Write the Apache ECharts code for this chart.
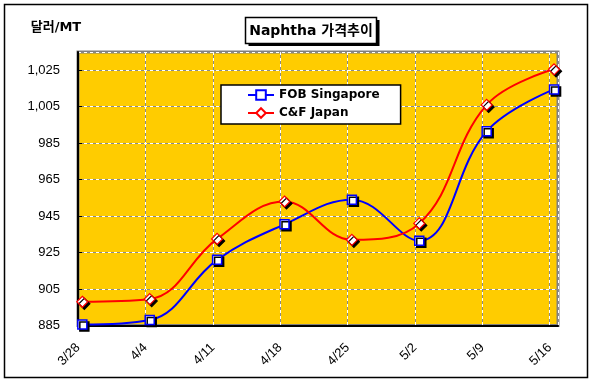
<!DOCTYPE html>
<html><head><meta charset="utf-8">
<script src="https://cdn.jsdelivr.net/npm/echarts@6/dist/echarts.min.js"></script>
<style>html,body{margin:0;padding:0;background:#fff}#c{width:592px;height:386px}</style>
</head><body><div id="c"></div>
<script>
const categories = ['3/28','4/4','4/11','4/18','4/25','5/2','5/9','5/16'];
const fobSingapore = [885.5, 888, 921, 940.5, 954, 931.5, 991.5, 1014.5];
const cfJapan = [898, 899.5, 932.5, 953, 932, 941, 1006, 1025.5];
const yTicks = [885, 905, 925, 945, 965, 985, 1005, 1025];
const titleText = 'Naphtha 가격추이';
const unitText = '달러/MT';

const DAYS = 7;          // weekly data on a day-based axis
const PLOT_OFFSET = 0.45; // points sit slightly right of the week ticks
const FONT = '"Liberation Sans", Arial, "Noto Sans CJK KR", sans-serif';
const WIDE = '"DejaVu Sans", "Noto Sans CJK KR", sans-serif';

function pts(arr){ return arr.map((v,i)=>[i*DAYS + PLOT_OFFSET, v]); }

const chart = echarts.init(document.getElementById('c'), null, {renderer:'canvas'});
const yMin = yTicks[0], yStep = yTicks[1]-yTicks[0];
const xMax = (categories.length-1)*DAYS + 0.86;
const yMax = 1035;

const baseX = {type:'value', min:0, max:xMax, interval:DAYS};
const baseY = {type:'value', min:yMin, max:yMax, interval:yStep};

chart.setOption({
  animation:false,
  textStyle:{fontFamily:FONT},
  grid:{left:78, right:34, top:52, bottom:60.5, show:true, backgroundColor:'#FFCC00', borderColor:'#808080', borderWidth:3},
  legend:{
    orient:'vertical', left:221, top:85,
    backgroundColor:'#fff', borderColor:'#000', borderWidth:1.5,
    padding:[4,21,5,26], itemWidth:26, itemHeight:12, itemGap:6,
    textStyle:{fontFamily:WIDE, fontSize:12, fontWeight:'bold', color:'#000'},
    data:['FOB Singapore','C&F Japan']
  },
  xAxis:[
    Object.assign({}, baseX, {
      axisLine:{show:true, onZero:false, lineStyle:{color:'#000', width:2}},
      axisTick:{show:false},
      splitLine:{show:true, lineStyle:{color:'#ffffff', type:[3,3], width:1}},
      axisLabel:{show:true, rotate:45, margin:20, fontSize:13, color:'#000', fontFamily:FONT,
        showMaxLabel:false,
        formatter:function(v){ const i = Math.round(v/DAYS); return (Math.abs(v - i*DAYS)<1e-6 && categories[i]) ? categories[i] : ''; }}
    }),
    Object.assign({}, baseX, {
      axisLine:{show:false}, axisTick:{show:false}, axisLabel:{show:false},
      splitLine:{show:true, lineStyle:{color:'#8a8a8a', type:[3,3], dashOffset:3, width:1}}
    })
  ],
  yAxis:[
    Object.assign({}, baseY, {
      axisLine:{show:true, onZero:false, lineStyle:{color:'#000', width:2}},
      axisTick:{show:true, inside:true, length:4, lineStyle:{color:'#000', width:1}},
      splitLine:{show:true, lineStyle:{color:'#ffffff', type:[3,3], width:1}},
      axisLabel:{show:true, margin:18, fontSize:13, color:'#000', fontFamily:FONT, showMaxLabel:false,
        formatter:function(v){ return yTicks.indexOf(v)>=0 ? v.toLocaleString('en-US') : ''; }}
    }),
    Object.assign({}, baseY, {
      axisLine:{show:false}, axisTick:{show:false}, axisLabel:{show:false},
      splitLine:{show:true, lineStyle:{color:'#8a8a8a', type:[3,3], dashOffset:3, width:1}}
    })
  ],
  series:[
    {name:'FOB Singapore', type:'line', xAxisIndex:0, yAxisIndex:0, data:pts(fobSingapore), smooth:0.4,
      symbol:'rect', symbolSize:9,
      lineStyle:{color:'#0000FF', width:2},
      itemStyle:{color:'#fff', borderColor:'#0000FF', borderWidth:1.5, shadowColor:'#000', shadowOffsetX:2, shadowOffsetY:2, shadowBlur:0},
      z:3},
    {name:'C&F Japan', type:'line', xAxisIndex:0, yAxisIndex:0, data:pts(cfJapan), smooth:0.4,
      symbol:'diamond', symbolSize:11,
      lineStyle:{color:'#FF0000', width:2},
      itemStyle:{color:'#fff', borderColor:'#FF0000', borderWidth:1.2, shadowColor:'#000', shadowOffsetX:2, shadowOffsetY:2, shadowBlur:0},
      z:4}
  ],
  graphic:[
    {type:'rect', shape:{x:4.5, y:4.5, width:583, height:373}, style:{fill:'none', stroke:'#000', lineWidth:1.5}, z:0},
    {type:'rect', shape:{x:248.5, y:20, width:131, height:26}, style:{fill:'#000'}, z:10},
    {type:'rect', shape:{x:245.5, y:17.5, width:131, height:26}, style:{fill:'#fff', stroke:'#000', lineWidth:1.5}, z:11},
    {type:'text', x:311, y:31, style:{text:titleText, font:'bold 14px ' + WIDE, fill:'#000', align:'center', verticalAlign:'middle'}, z:12},
    {type:'text', x:56, y:28, style:{text:unitText, font:'bold 13px ' + WIDE, fill:'#000', align:'center', verticalAlign:'middle'}, z:12}
  ]
});
</script>
</body></html>
